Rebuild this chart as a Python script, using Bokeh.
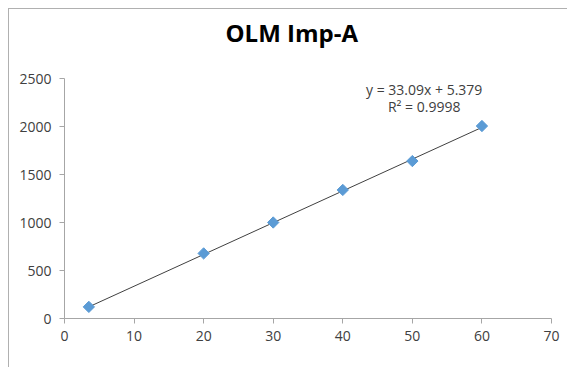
from math import pi
from bokeh.plotting import figure
from bokeh.models import Range1d, SingleIntervalTicker, Label, Title
from bokeh.embed import file_html
from bokeh.resources import INLINE

# data
conc = [3.5, 20, 30, 40, 50, 60]
area = [121, 678, 1000, 1339, 1640, 2005]
slope = 33.09
intercept = 5.379
title = "OLM Imp-A"
eq_text = "y = 33.09x + 5.379"
r2_text = "R² = 0.9998"

FONT = "Open Sans"
GREY = "#a6a6a6"

p = figure(width=559, height=359, output_backend="svg", toolbar_location=None,
           x_range=Range1d(0, 70), y_range=Range1d(0, 2500),
           min_border_left=55, min_border_right=17, min_border_top=69, min_border_bottom=50)
p.styles = {"margin-left": "8px", "margin-top": "8px",
            "border-left": "1px solid #b0b0b0", "border-top": "1px solid #b0b0b0"}
p.outline_line_color = None
p.grid.visible = False

# spacer between the title and the plot frame
p.add_layout(Title(text=" ", text_font=FONT, text_font_size="12px", standoff=8), "above")

p.title.text = title
p.title.align = "left"
p.title.offset = 161
p.title.standoff = 5
p.title.text_font = FONT
p.title.text_font_size = "24px"
p.title.text_font_style = "bold"
p.title.text_color = "#000000"

p.xaxis.ticker = SingleIntervalTicker(interval=10, num_minor_ticks=0)
p.yaxis.ticker = SingleIntervalTicker(interval=500, num_minor_ticks=0)
for ax in (p.xaxis, p.yaxis):
    ax.axis_line_color = GREY
    ax.major_tick_line_color = GREY
    ax.minor_tick_line_color = None
    ax.major_tick_in = 0
    ax.major_tick_out = 5
    ax.major_label_text_font = FONT
    ax.major_label_text_font_size = "14px"
    ax.major_label_text_color = "#404040"
p.xaxis.major_label_standoff = 7
p.yaxis.major_label_standoff = 8

xs = [min(conc), max(conc)]
ys = [slope * x + intercept for x in xs]
p.line(xs, ys, line_color="#404040", line_width=1)

p.scatter(conc, area, marker="square", angle=pi / 4, size=8,
          fill_color="#5b9bd5", line_color="#5b9bd5")

p.add_layout(Label(x=51.7, y=2383, text=eq_text, text_align="center", text_baseline="alphabetic",
                   text_font=FONT, text_font_size="14px", text_color="#404040"))
p.add_layout(Label(x=51.7, y=2209, text=r2_text, text_align="center", text_baseline="alphabetic",
                   text_font=FONT, text_font_size="14px", text_color="#404040"))

open("out.html", "w").write(file_html(p, INLINE))
